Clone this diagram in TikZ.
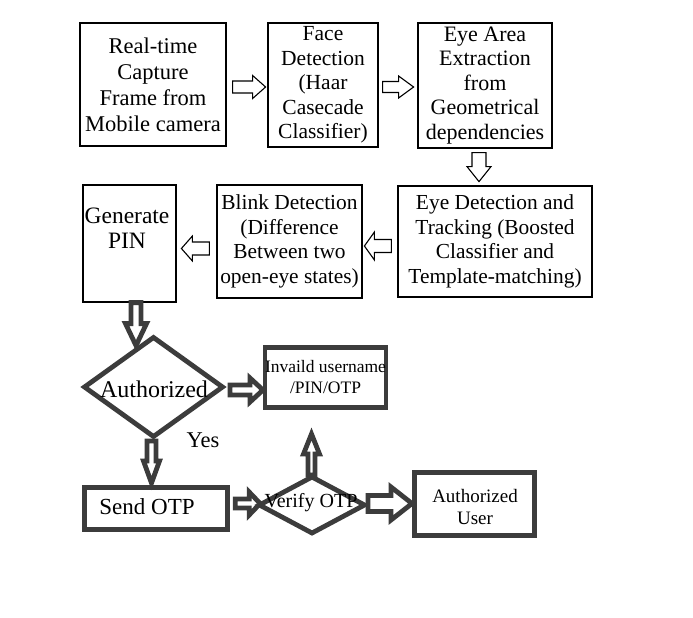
\documentclass[tikz,border=0pt]{standalone}
\usepackage{fontspec}
\setmainfont{Liberation Serif}
\usetikzlibrary{calc}
\definecolor{dk}{HTML}{3C3C3C}
\tikzset{
  pics/barrow/.style n args={4}{code={
    \draw (0,-#2) -- ({#1-#4},-#2) -- ({#1-#4},-#3) -- (#1,0) -- ({#1-#4},#3) -- ({#1-#4},#2) -- (0,#2) -- cycle;}},
  thinarrow/.style={line width=1.1pt, color=black},
  thickarrow/.style={line width=4.8pt, color=dk},
  box/.style={draw=black, line width=1.2pt, inner sep=0pt, align=center},
  tbox/.style={draw=dk, line width=4.8pt, inner sep=0pt, align=center},
  txt/.style={inner sep=0pt, align=center},
}
\begin{document}
\begin{tikzpicture}[x=1pt,y=-1pt]
\fill[white] (0,0) rectangle (693,618);
\useasboundingbox (0,0) rectangle (693,618);

% top row
\node[box, minimum width=146pt, minimum height=123pt, font=\fontsize{22.5}{26}\selectfont] (cap) at (153,84.5) {Real-time\\Capture\\Frame from\\Mobile camera};
\node[box, minimum width=110pt, minimum height=124pt, font=\fontsize{21.5}{24.5}\selectfont] (face) at (323,85) {Face\\Detection\\(Haar\\Casecade\\Classifier)};
\node[box, minimum width=134pt, minimum height=125pt, font=\fontsize{22}{24.5}\selectfont] (eye) at (485,85.5) {Eye Area\\Extraction\\from\\Geometrical\\dependencies};

% second row
\node[box, minimum width=194pt, minimum height=111pt, font=\fontsize{21.4}{24.5}\selectfont] (track) at (495,241.5) {Eye Detection and\\Tracking (Boosted\\Classifier and\\Template-matching)};
\node[box, minimum width=145pt, minimum height=113pt, font=\fontsize{21.4}{24.7}\selectfont] (blink) at (289.5,241.5) {Blink Detection\\(Difference\\Between two\\open-eye states)};
\node[box, minimum width=93pt, minimum height=117pt] (gen) at (129.5,243.5) {};
\node[txt, font=\fontsize{23.5}{25}\selectfont] (gentxt) at (127,228) {Generate\\PIN};

% thin arrows
\pic[thinarrow] at ($(cap.east)+(6,2.5)$) {barrow={33}{6}{11.5}{13}};
\pic[thinarrow] at ($(face.east)+(4,2)$) {barrow={31}{5.5}{11}{15}};
\pic[thinarrow, rotate=-90] at ($(eye.south)+(-6,4)$) {barrow={29}{7}{12}{15}};
\pic[thinarrow, rotate=180] at ($(track.west)+(-6,4.5)$) {barrow={27}{6.5}{14}{10}};
\pic[thinarrow, rotate=180] at ($(blink.west)+(-7,7)$) {barrow={28}{6.5}{12.5}{11}};

% Authorized diamond
\coordinate (ad) at (153.5,387);
\draw[thickarrow] ($(ad)+(-69,0)$) -- ($(ad)+(0,-49.5)$) -- ($(ad)+(69,0)$) -- ($(ad)+(0,49.5)$) -- cycle;
\node[txt, font=\fontsize{24}{26}\selectfont] (auth) at ($(ad)+(0.5,2)$) {Authorized};

\node[tbox, minimum width=120.5pt, minimum height=60.5pt, font=\fontsize{17.5}{21}\selectfont] (inv) at (325.5,377.5) {Invaild username\\/PIN/OTP};
\node[txt, font=\fontsize{22.5}{24}\selectfont] (yes) at (203,440) {Yes};

% Send OTP
\node[tbox, minimum width=143.5pt, minimum height=42.5pt] (send) at (156,508.5) {};
\node[txt, font=\fontsize{23}{25}\selectfont] (sendtxt) at (147,507) {Send OTP};

% Verify diamond
\coordinate (vd) at (312,505);
\draw[thickarrow] ($(vd)+(-52.5,0)$) -- ($(vd)+(0,-28)$) -- ($(vd)+(52.5,0)$) -- ($(vd)+(0,28)$) -- cycle;
\node[txt, font=\fontsize{20}{22}\selectfont] (ver) at ($(vd)+(-1,-2)$) {Verify OTP};

% Authorized user
\node[tbox, minimum width=120.5pt, minimum height=63.5pt] (user) at (474.5,504) {};
\node[txt, font=\fontsize{19}{22}\selectfont] (usertxt) at (475,506.5) {Authorized\\User};

% thick arrows
\pic[thickarrow, rotate=-90] at ($(gen.south)+(6.5,0)$) {barrow={43}{5}{10.5}{22}};
\pic[thickarrow] at ($(ad)+(76.5,3)$) {barrow={33}{5}{12}{13}};
\pic[thickarrow, rotate=-90] at ($(ad)+(-2,54)$) {barrow={42}{4.5}{8}{22}};
\pic[thickarrow] at ($(send.east)+(5,-5)$) {barrow={25}{4.5}{11.5}{11}};
\pic[thickarrow, rotate=90] at ($(vd)+(-0.5,-30)$) {barrow={41}{3.5}{8}{20}};
\pic[thickarrow] at ($(vd)+(56,-1.5)$) {barrow={44}{8}{16.5}{21}};
\end{tikzpicture}
\end{document}
